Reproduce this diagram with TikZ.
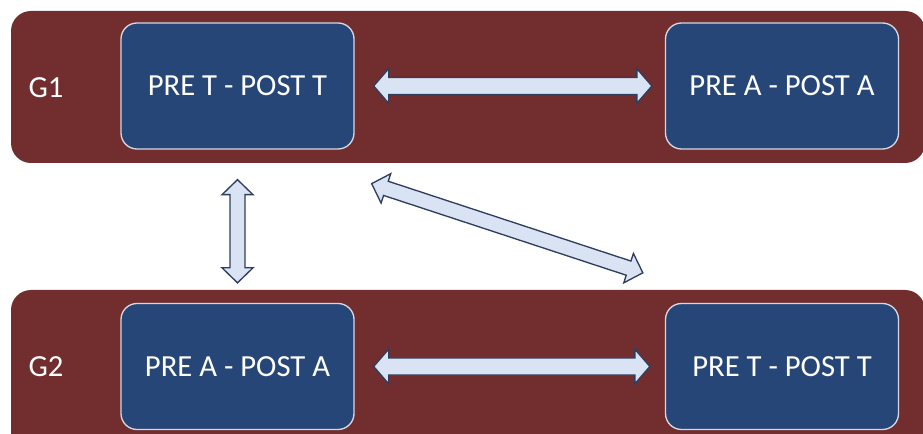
\documentclass[tikz,border=0pt]{standalone}
\usepackage{fontspec}
\setmainfont{Carlito}
\usetikzlibrary{calc}

\definecolor{bandred}{RGB}{114,46,46}
\definecolor{boxblue}{RGB}{38,70,120}
\definecolor{boxline}{RGB}{215,215,225}
\definecolor{arrowfill}{RGB}{218,227,243}
\definecolor{arrowline}{RGB}{47,62,94}

\tikzset{every picture/.style={line width=0.75pt}}
\tikzset{
  band/.style={fill=bandred, draw=none, rounded corners=15pt},
  stagebox/.style={fill=boxblue, draw=boxline, line width=1pt, rounded corners=12pt,
    minimum width=174.75pt, minimum height=94.5pt, inner sep=0pt,
    text=white, font=\fontsize{23}{27}\selectfont},
  grouplabel/.style={text=white, font=\fontsize{23}{27}\selectfont, inner sep=0.75pt},
  fatarrow/.style={fill=arrowfill, draw=arrowline, line width=1pt, line join=miter}
}

% block arrow with two heads: from, to, half shaft, half head
\newcommand{\dblarrow}[4]{%
  \coordinate (ha) at ($(#1)!11.25pt!(#2)$);
  \coordinate (hb) at ($(#2)!11.25pt!(#1)$);
  \draw[fatarrow] (#1) -- ($(ha)!#4!90:(#2)$) -- ($(ha)!#3!90:(#2)$)
    -- ($(hb)!#3!-90:(#1)$) -- ($(hb)!#4!-90:(#1)$) -- (#2)
    -- ($(hb)!#4!90:(#1)$) -- ($(hb)!#3!90:(#1)$)
    -- ($(ha)!#3!-90:(#2)$) -- ($(ha)!#4!-90:(#2)$) -- cycle;
}

\begin{document}
\begin{tikzpicture}[x=0.75pt,y=0.75pt,yscale=-1,xscale=1]
\useasboundingbox (0,0) rectangle (923,434);
\clip (0,0) rectangle (923,434);

%Shape: Rounded Rect [G1 band]
\draw [band] (11,11) rectangle (925,163);
%Shape: Rounded Rect [G2 band]
\draw [band] (11,290) rectangle (925,470);

% Text Node
\node [grouplabel] (g1) at (46,88) {G1};
% Text Node
\node [grouplabel] (g2) at (46,367) {G2};

% Boxes
\node [stagebox] (t1) at (237.5,86) {PRE T - POST T};
\node [stagebox] (a1) at (782,86) {PRE A - POST A};
\node [stagebox] (a2) at (237.5,366.5) {PRE A - POST A};
\node [stagebox] (t2) at (782,366.5) {PRE T - POST T};

% Arrows
\coordinate (p1) at ($(t1.east)+(19,0)$);
\coordinate (p2) at ($(a1.west)+(-13,0)$);
\dblarrow{p1}{p2}{6.4pt}{13pt}

\coordinate (p3) at ($(a2.east)+(19,0)$);
\coordinate (p4) at ($(t2.west)+(-15,0)$);
\dblarrow{p3}{p4}{6.4pt}{13pt}

\coordinate (p5) at ($(t1.south)+(0,30)$);
\coordinate (p6) at ($(a2.north)+(0,-20)$);
\dblarrow{p5}{p6}{5.6pt}{11.6pt}

\coordinate (p7) at ($(t1.south east)+(17,34)$);
\coordinate (p8) at ($(t2.north west)+(-22,-30)$);
\dblarrow{p7}{p8}{5.6pt}{11.6pt}

\end{tikzpicture}
\end{document}
